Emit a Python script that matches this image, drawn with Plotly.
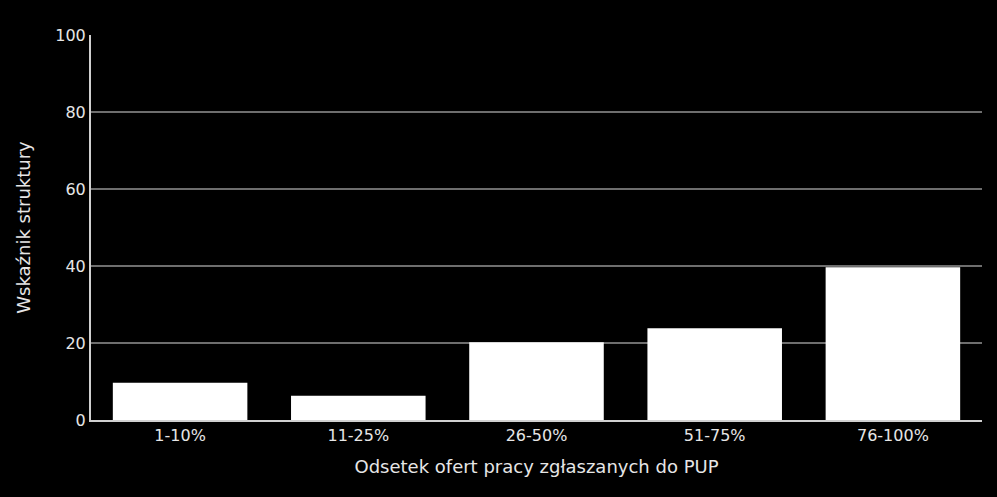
import plotly.graph_objects as go

# Data
categories = ['1-10%', '11-25%', '26-50%', '51-75%', '76-100%']
values = [9.7, 6.3, 20.2, 23.8, 39.7]

x_title = 'Odsetek ofert pracy zgłaszanych do PUP'
y_title = 'Wskaźnik struktury'
y_ticks = [0, 20, 40, 60, 80, 100]

fig = go.Figure(data=[go.Bar(
    x=categories,
    y=values,
    marker=dict(color='white', line=dict(width=0)),
)])

fig.update_layout(
    width=997,
    height=497,
    paper_bgcolor='black',
    plot_bgcolor='black',
    margin=dict(l=91, r=15, t=35, b=77),
    bargap=0.245,
    font=dict(family='DejaVu Sans', size=16, color='#e6e6e6'),
    showlegend=False,
)
fig.update_xaxes(
    title=dict(text=x_title, font=dict(size=18), standoff=16),
    showline=True, linecolor='#d0d0d0', linewidth=2,
    showgrid=False, ticks='', tickfont=dict(size=16),
)
fig.update_yaxes(
    title=dict(text=y_title, font=dict(size=18), standoff=20),
    range=[0, 100], tickvals=y_ticks,
    showline=True, linecolor='#d0d0d0', linewidth=2,
    gridcolor='#6e6e6e', gridwidth=1.5, zeroline=False,
    ticks='', tickfont=dict(size=16),
)

# drop the page margin so the figure fills the window
fig.write_html('out.html', config={'displayModeBar': False}, post_script=(
    "document.body.style.margin='0';"
    "document.body.style.background='black';"
))
